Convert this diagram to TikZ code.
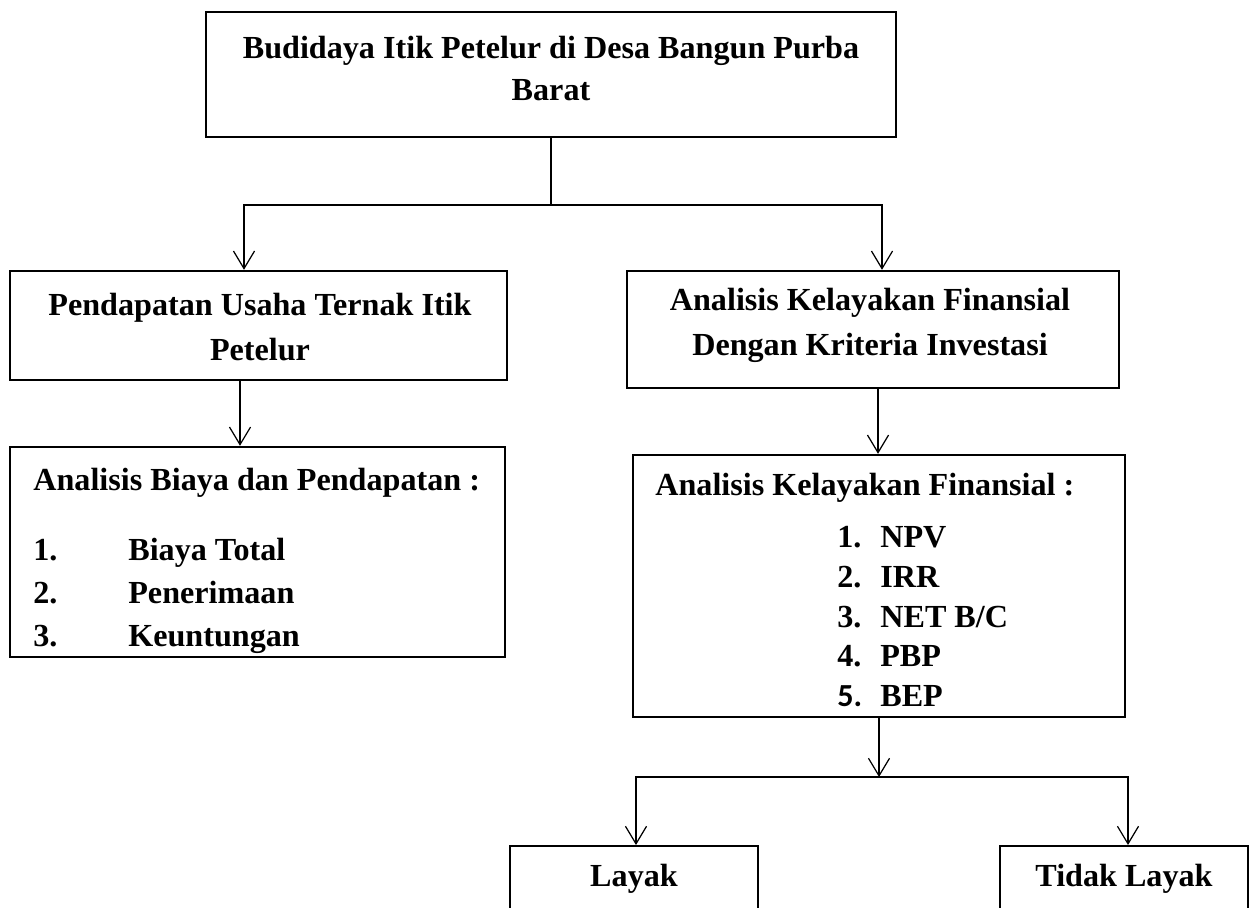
\documentclass[tikz,border=0pt]{standalone}
\usepackage{fontspec}
\setmainfont{Liberation Serif}
\newfontfamily\calibri{Carlito}
\usetikzlibrary{arrows.meta}

\begin{document}
\begin{tikzpicture}[x=0.02cm,y=-0.02cm,
  box/.style={draw, line width=1.4pt, inner sep=0pt},
  txt/.style={inner sep=0pt, font=\bfseries\fontsize{18.3}{24}\selectfont},
  arr/.style={-{Straight Barb[length=10pt,width=12pt]}, line width=0.7pt}]
\useasboundingbox (0,0) rectangle (1256,907);
\clip (0,0) rectangle (1256,907);
% top
\node[box, minimum width=13.8cm, minimum height=2.5cm] (budidaya) at (551,74.5) {};
\node[txt, anchor=north, align=center] (budidayaT) at (551,36) {Budidaya Itik Petelur di Desa Bangun Purba\\Barat};
% second row
\node[box, minimum width=9.94cm, minimum height=2.18cm] (pendapatan) at (258.5,325.5) {};
\node[txt, anchor=north, align=center, font=\bfseries\fontsize{18.3}{25.5}\selectfont] (pendapatanT) at (260,293) {Pendapatan Usaha Ternak Itik\\Petelur};
\node[box, minimum width=9.84cm, minimum height=2.34cm] (kelayakan) at (873,329.5) {};
\node[txt, anchor=north, align=center, font=\bfseries\fontsize{18.3}{25.5}\selectfont] (kelayakanT) at (870,288) {Analisis Kelayakan Finansial\\Dengan Kriteria Investasi};
% third row
\node[box, minimum width=9.9cm, minimum height=4.2cm] (biaya) at (257.5,552) {};
\node[txt, anchor=base west] (biayaH) at (33,490) {Analisis Biaya dan Pendapatan :};
\node[txt, anchor=north west, align=left, font=\bfseries\fontsize{18.3}{24.4}\selectfont] (biayaL) at (33,538)
  {\makebox[1.9cm][l]{1.}Biaya Total\\\makebox[1.9cm][l]{2.}Penerimaan\\\makebox[1.9cm][l]{3.}Keuntungan};
\node[box, minimum width=9.84cm, minimum height=5.24cm] (finansial) at (879,586) {};
\node[txt, anchor=base west] (finansialH) at (655,495) {Analisis Kelayakan Finansial :};
\node[txt, anchor=north west, align=left, font=\bfseries\fontsize{18.3}{22.6}\selectfont] (finansialL) at (837,526)
  {\makebox[0.86cm][l]{1.}NPV\\\makebox[0.86cm][l]{2.}IRR\\\makebox[0.86cm][l]{3.}NET B/C\\\makebox[0.86cm][l]{4.}PBP\\\makebox[0.86cm][l]{\calibri 5.}BEP};
% result
\node[box, txt, minimum width=4.96cm, minimum height=1.32cm, anchor=north] (layak) at (634,845) {Layak};
\node[box, txt, minimum width=4.96cm, minimum height=1.32cm, anchor=north] (tidak) at (1124,845) {Tidak Layak};
% arrows
\coordinate (split1) at (551,205);
\draw[line width=0.7pt] (budidaya.south) -- (split1);
\draw[arr] (split1) -| ([shift={(-14.5,0)}]pendapatan.north);
\draw[arr] (split1) -| ([shift={(9,0)}]kelayakan.north);
\draw[arr] ([shift={(-18.5,0)}]pendapatan.south) -- ([shift={(-17.5,0)}]biaya.north);
\draw[arr] ([shift={(5,0)}]kelayakan.south) -- ([shift={(-1,0)}]finansial.north);
\coordinate (split2) at (879,777);
\draw[arr] (finansial.south) -- (split2);
\draw[arr] (split2) -| ([shift={(2,0)}]layak.north);
\draw[arr] (split2) -| ([shift={(4,0)}]tidak.north);
\end{tikzpicture}
\end{document}
